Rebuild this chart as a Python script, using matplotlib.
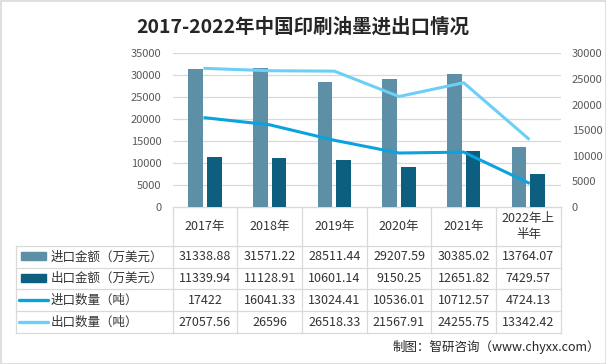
import matplotlib
matplotlib.use("Agg")
import matplotlib.pyplot as plt
from matplotlib.patches import Rectangle
import numpy as np

plt.rcParams['font.family'] = ['Noto Sans CJK SC', 'DejaVu Sans']

categories = ["2017年", "2018年", "2019年", "2020年", "2021年", "2022年上\n半年"]
import_value = [31338.88, 31571.22, 28511.44, 29207.59, 30385.02, 13764.07]
export_value = [11339.94, 11128.91, 10601.14, 9150.25, 12651.82, 7429.57]
import_qty = [17422, 16041.33, 13024.41, 10536.01, 10712.57, 4724.13]
export_qty = [27057.56, 26596, 26518.33, 21567.91, 24255.75, 13342.42]
value_labels = ["31338.88", "31571.22", "28511.44", "29207.59", "30385.02", "13764.07"]
export_labels = ["11339.94", "11128.91", "10601.14", "9150.25", "12651.82", "7429.57"]
iqty_labels = ["17422", "16041.33", "13024.41", "10536.01", "10712.57", "4724.13"]
eqty_labels = ["27057.56", "26596", "26518.33", "21567.91", "24255.75", "13342.42"]
series_names = ["进口金额（万美元）", "出口金额（万美元）", "进口数量（吨）", "出口数量（吨）"]

c_imp_bar = "#5d8fa7"
c_exp_bar = "#0d5f80"
c_imp_line = "#0aa3dd"
c_exp_line = "#6dcff6"
grid_c = "#d9d9d9"
tick_c = "#595959"
text_c = "#333333"

W, H = 606, 364
fig = plt.figure(figsize=(W / 100, H / 100), dpi=100)

# pixel layout
L, R, T, B = 172.7, 560.7, 53.3, 207.0
ax = fig.add_axes([L / W, 1 - B / H, (R - L) / W, (B - T) / H])
x = np.arange(len(categories))
bw = 0.227
ax.bar(x - 0.146, import_value, width=bw, color=c_imp_bar, zorder=3)
ax.bar(x + 0.146, export_value, width=bw, color=c_exp_bar, zorder=3)
ax.set_xlim(-0.5, len(categories) - 0.5)
ax.set_ylim(0, 35000)
ax.set_yticks(np.arange(0, 35001, 5000))
ax.yaxis.grid(True, color=grid_c, lw=0.9, zorder=0)
ax.set_axisbelow(True)
ax.set_xticks([])
for s in ["top", "left", "right"]:
    ax.spines[s].set_visible(False)
ax.spines["bottom"].set_color(grid_c)
ax.tick_params(axis="y", length=0, pad=8, labelsize=8, labelcolor=tick_c)

ax2 = ax.twinx()
ax2.plot(x, import_qty, color=c_imp_line, lw=2.2, zorder=4)
ax2.plot(x, export_qty, color=c_exp_line, lw=2.2, zorder=4)
ax2.set_ylim(0, 30000)
ax2.set_yticks(np.arange(0, 30001, 5000))
for s in ["top", "left", "right", "bottom"]:
    ax2.spines[s].set_visible(False)
ax2.tick_params(axis="y", length=0, pad=8, labelsize=8, labelcolor=tick_c)

# table layer in pixel coordinates
tb = fig.add_axes([0, 0, 1, 1], zorder=-1)
tb.set_xlim(0, W)
tb.set_ylim(H, 0)
tb.axis("off")
tb.patch.set_alpha(0)

TL = 16.0
row_y = [207.3, 246.0, 267.7, 289.3, 311.0, 333.3]
colw = (R - L) / len(categories)
lw_t = 0.9
tb.plot([L, R], [row_y[0], row_y[0]], color=grid_c, lw=lw_t)
for yy in row_y[1:]:
    tb.plot([TL, R], [yy, yy], color=grid_c, lw=lw_t)
for i in range(len(categories) + 1):
    xx = L + i * colw
    tb.plot([xx, xx], [row_y[0], row_y[-1]], color=grid_c, lw=lw_t)
tb.plot([TL, TL], [row_y[1], row_y[-1]], color=grid_c, lw=lw_t)

for i, c in enumerate(categories):
    tb.text(L + (i + 0.5) * colw, (row_y[0] + row_y[1]) / 2, c, ha="center", va="center",
            fontsize=9, color=text_c, linespacing=1.35)

rows = [value_labels, export_labels, iqty_labels, eqty_labels]
for r, vals in enumerate(rows):
    yc = (row_y[r + 1] + row_y[r + 2]) / 2
    for i, v in enumerate(vals):
        tb.text(L + (i + 0.5) * colw, yc, v, ha="center", va="center", fontsize=9, color=text_c)
    tb.text(50.5, yc, series_names[r], ha="left", va="center", fontsize=9, color=text_c)
    if r == 0:
        tb.add_patch(Rectangle((21, yc - 4.5), 24.7, 8, color=c_imp_bar))
    elif r == 1:
        tb.add_patch(Rectangle((21, yc - 4.5), 24.7, 8, color=c_exp_bar))
    elif r == 2:
        tb.plot([19.3, 47.7], [yc - 0.5, yc - 0.5], color=c_imp_line, lw=2.4, solid_capstyle="round")
    else:
        tb.plot([19.3, 47.7], [yc - 0.5, yc - 0.5], color=c_exp_line, lw=2.4, solid_capstyle="round")

tb.add_patch(Rectangle((0.5, 0.5), W - 1, H - 1, fill=False, edgecolor="#d9d9d9", lw=1.2))

fig.text(303 / W, 1 - 27 / H, "2017-2022年中国印刷油墨进出口情况", ha="center", va="center",
         fontsize=14, fontweight="bold", color="#262626")
fig.text(600 / W, 1 - 347 / H, "制图：智研咨询（www.chyxx.com）", ha="right", va="center",
         fontsize=9, color="#262626")

fig.savefig("out.png", dpi=100)
